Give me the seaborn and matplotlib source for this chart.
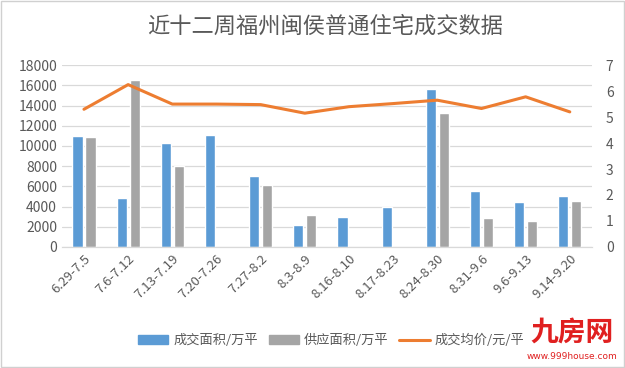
import pandas as pd
import matplotlib
matplotlib.use('Agg')
import matplotlib.pyplot as plt
import seaborn as sns
from matplotlib.patches import Patch
from matplotlib.lines import Line2D

# dados
semanas = ['6.29-7.5', '7.6-7.12', '7.13-7.19', '7.20-7.26', '7.27-8.2', '8.3-8.9',
           '8.16-8.10', '8.17-8.23', '8.24-8.30', '8.31-9.6', '9.6-9.13', '9.14-9.20']
cj_area = [11000, 4800, 10300, 11100, 7000, 2200, 3000, 4000, 15600, 5500, 4400, 5000]
gy_area = [10900, 16500, 8000, 0, 6100, 3200, 0, 0, 13300, 2900, 2600, 4500]
jun_jia = [5.3, 6.25, 5.5, 5.5, 5.48, 5.15, 5.4, 5.52, 5.65, 5.33, 5.78, 5.2]

nome_cj = '成交面积/万平'
nome_gy = '供应面积/万平'
nome_jj = '成交均价/元/平'

sns.set_style('white')
plt.rcParams['font.family'] = ['Noto Sans CJK SC', 'DejaVu Sans']

cor_azul = '#5B9BD5'
cor_cinza = '#A5A5A5'
cor_laranja = '#ED7D31'
cor_texto = '#595959'

df = pd.DataFrame({'semana': semanas * 2,
                   'valor': cj_area + gy_area,
                   'serie': [nome_cj] * 12 + [nome_gy] * 12})

fig = plt.figure(figsize=(6.25, 3.68), dpi=100)
ax = fig.add_axes([0.099, 0.329, 0.848, 0.494])

sns.barplot(data=df, x='semana', y='valor', hue='serie', order=semanas,
            palette=[cor_azul, cor_cinza], saturation=1, width=0.59, gap=0.22,
            legend=False, ax=ax)
ax.set_ylim(0, 18000)
ax.set_yticks(range(0, 18001, 2000))
ax.set_xlim(-0.5, 11.5)
ax.grid(axis='y', color='#D9D9D9', linewidth=0.9)
ax.set_axisbelow(True)
ax.set_xlabel('')
ax.set_ylabel('')

ax2 = ax.twinx()
sns.lineplot(x=list(range(12)), y=jun_jia, color=cor_laranja, linewidth=2.2,
             ax=ax2, legend=False)
ax2.set_ylim(0, 7)
ax2.set_yticks(range(0, 8))
ax2.set_xlim(-0.5, 11.5)

ax.set_xticks(range(12))
ax.set_xticklabels(semanas, rotation=45, ha='right', rotation_mode='anchor',
                   fontsize=9.5, color=cor_texto)
ax.tick_params(axis='y', labelsize=10, colors=cor_texto, length=0)
ax.tick_params(axis='x', length=0, pad=4)
ax2.tick_params(axis='y', labelsize=10, colors=cor_texto, length=0, pad=10)

for a in (ax, ax2):
    for lado in ['left', 'right', 'top']:
        a.spines[lado].set_visible(False)
    a.spines['bottom'].set_color('#D9D9D9')

fig.text(0.52, 0.93, '近十二周福州闽侯普通住宅成交数据', ha='center', va='center',
         fontsize=16, color=cor_texto)

handles = [Patch(color=cor_azul), Patch(color=cor_cinza),
           Line2D([], [], color=cor_laranja, linewidth=2.2)]
fig.legend(handles, [nome_cj, nome_gy, nome_jj], loc='center',
           bbox_to_anchor=(0.53, 0.075), ncol=3, frameon=False,
           fontsize=9.5, labelcolor=cor_texto, handlelength=2.3,
           handleheight=0.6, columnspacing=0.8, handletextpad=0.4)

# marca d'água
fig.text(0.915, 0.095, '九房网', ha='center', va='center', fontsize=20,
         color='#E02020', fontweight='bold')
fig.text(0.915, 0.03, 'www.999house.com', ha='center', va='center',
         fontsize=6.5, color='#E02020', family=['DejaVu Sans'])

fig.patches.append(plt.Rectangle((0.002, 0.002), 0.996, 0.996, fill=False,
                                 edgecolor='#D0D0D0', linewidth=1,
                                 transform=fig.transFigure, figure=fig))

fig.savefig('out.png', dpi=100)
